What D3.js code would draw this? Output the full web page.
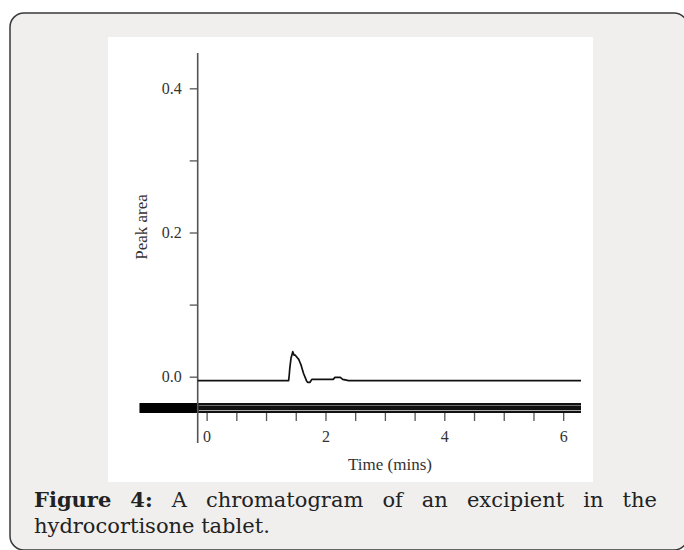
<!DOCTYPE html>
<html>
<head>
<meta charset="utf-8">
<script src="https://cdn.jsdelivr.net/npm/d3@7"></script>
<style>
  html, body { margin: 0; padding: 0; background: #ffffff; }
  svg { display: block; }
</style>
</head>
<body>
<svg id="chart" width="684" height="550"></svg>
<script>
// ---- data ----
const timeMins = [-0.15, 1.38, 1.39, 1.40, 1.42, 1.45, 1.47, 1.49, 1.51, 1.53, 1.55, 1.57, 1.59, 1.63, 1.68, 1.70, 1.74, 1.77, 2.13, 2.16, 2.25, 2.29, 2.39, 6.30];
const peakArea = [-0.0055, -0.0055, 0.002, 0.012, 0.0255, 0.0347, 0.030, 0.030, 0.028, 0.026, 0.024, 0.020, 0.016, 0.0047, -0.0055, -0.0078, -0.0078, -0.0037, -0.0037, -0.0009, -0.0009, -0.0037, -0.0055, -0.0055];
const yMajorTicks = [0, 0.2, 0.4];
const yMinorTicks = [0.1, 0.3];
const xMajorTicks = [0, 2, 4, 6];
const xMinorTicks = [0.5, 1, 1.5, 2.5, 3, 3.5, 4.5, 5, 5.5];
const xTitle = "Time (mins)";
const yTitle = "Peak area";
const captionBold = ["Figure", "4:"];
const captionLine1 = ["A", "chromatogram", "of", "an", "excipient", "in", "the"];
const captionLine2 = "hydrocortisone tablet.";

const svg = d3.select("#chart");

// outer card
svg.append("rect").attr("x", 10).attr("y", 13).attr("width", 678).attr("height", 537)
  .attr("rx", 14).attr("ry", 14)
  .attr("fill", "#f0efee").attr("stroke", "#3a3a3a").attr("stroke-width", 1.5);

// white figure panel
svg.append("rect").attr("x", 108).attr("y", 37).attr("width", 485).attr("height", 445)
  .attr("fill", "#ffffff");

// scales
const x = d3.scaleLinear().domain([-0.15, 6.3]).range([197.7, 581]);
const y = d3.scaleLinear().domain([-0.092, 0.449]).range([443, 53]);

const axisColor = "#555";
const serif = "'Liberation Serif', 'Times New Roman', serif";
const capSerif = "'DejaVu Serif', serif";

// x axis band (thick multi-line bar)
const bandTop = 403, bandBot = 413;
svg.append("rect").attr("x", x(-1.13)).attr("y", bandTop)
  .attr("width", x(-0.15) - x(-1.13)).attr("height", bandBot - bandTop).attr("fill", "#000");
svg.append("rect").attr("x", x(-0.15)).attr("y", bandTop)
  .attr("width", x(6.3) - x(-0.15)).attr("height", bandBot - bandTop).attr("fill", "#111");
svg.append("line").attr("x1", x(-0.15) + 1).attr("x2", x(6.3))
  .attr("y1", 405.5).attr("y2", 405.5).attr("stroke", "#777").attr("stroke-width", 0.9);
svg.append("line").attr("x1", x(-0.15) + 1).attr("x2", x(6.3))
  .attr("y1", 410.5).attr("y2", 410.5).attr("stroke", "#bbb").attr("stroke-width", 0.9);

// x ticks (downward under band) using d3 axis
const xAxisG = svg.append("g").attr("transform", `translate(0,${bandBot})`)
  .call(d3.axisBottom(x).tickValues(xMajorTicks.concat(xMinorTicks)).tickSize(8)
    .tickFormat(d => xMajorTicks.includes(d) ? d3.format("d")(d) : ""));
xAxisG.select(".domain").remove();
xAxisG.selectAll(".tick line").attr("stroke", axisColor).attr("stroke-width", 1.3);
xAxisG.selectAll(".tick text").attr("font-family", serif).attr("font-size", 16)
  .attr("fill", "#333").attr("dy", null).attr("y", 29);

// y axis
const yAxisG = svg.append("g").attr("transform", `translate(${x(-0.15)},0)`)
  .call(d3.axisLeft(y).tickValues(yMajorTicks.concat(yMinorTicks)).tickSize(8)
    .tickFormat(d => yMajorTicks.includes(d) ? d3.format(".1f")(d) : ""));
yAxisG.select(".domain").remove();
yAxisG.selectAll(".tick line").attr("stroke", axisColor).attr("stroke-width", 1.3);
yAxisG.selectAll(".tick text").attr("font-family", serif).attr("font-size", 16)
  .attr("fill", "#333").attr("x", -16).attr("dy", "0.33em");
svg.append("line").attr("x1", x(-0.15)).attr("x2", x(-0.15))
  .attr("y1", y(0.449)).attr("y2", y(-0.092))
  .attr("stroke", axisColor).attr("stroke-width", 1.6);

// signal line
const line = d3.line().x((d, i) => x(timeMins[i])).y(d => y(d));
svg.append("path").datum(peakArea).attr("d", line)
  .attr("fill", "none").attr("stroke", "#111").attr("stroke-width", 1.7)
  .attr("stroke-linejoin", "round");

// axis titles
svg.append("text").attr("x", 390).attr("y", 470).attr("text-anchor", "middle")
  .attr("font-family", serif).attr("font-size", 17).attr("fill", "#333").text(xTitle);
svg.append("text").attr("transform", "translate(147,227) rotate(-90)")
  .attr("text-anchor", "middle").attr("font-family", serif).attr("font-size", 17)
  .attr("fill", "#333").text(yTitle);

// caption (justified line 1)
const capFont = 21;
const left = 34, right = 657;
const cap = svg.append("g").attr("font-family", capSerif).attr("font-size", capFont).attr("fill", "#222");
const words = captionBold.map(t => ({t, bold: true})).concat(captionLine1.map(t => ({t, bold: false})));
const nodes = words.map(w => cap.append("text").attr("y", 507)
  .attr("font-weight", w.bold ? "bold" : "normal").text(w.t));
const widths = nodes.map(n => n.node().getComputedTextLength());
const gap = (right - left - d3.sum(widths)) / (nodes.length - 1);
let cx = left;
nodes.forEach((n, i) => { n.attr("x", cx); cx += widths[i] + gap; });
cap.append("text").attr("x", left).attr("y", 533).text(captionLine2);
</script>
</body>
</html>
